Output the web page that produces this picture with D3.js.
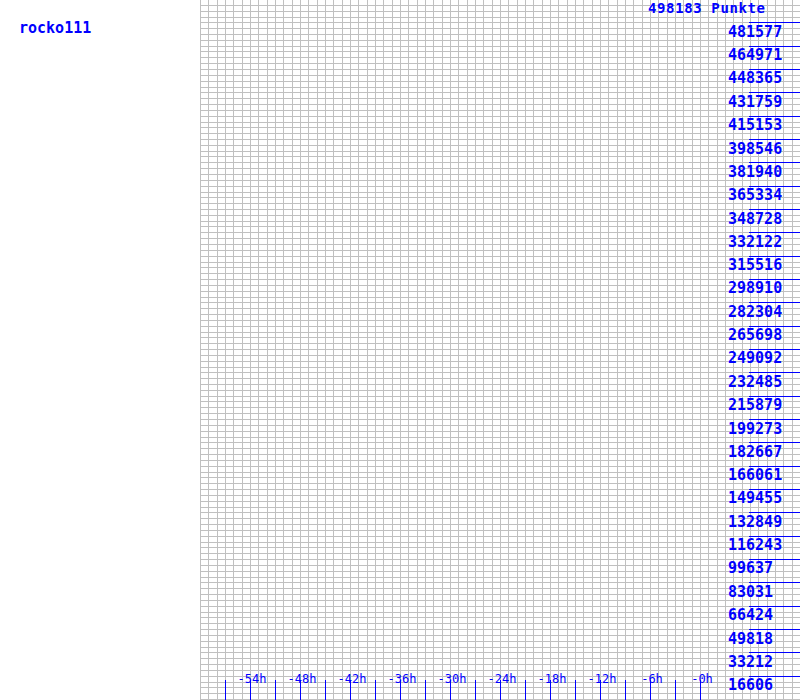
<!DOCTYPE html>
<html><head><meta charset="utf-8">
<script src="https://cdn.jsdelivr.net/npm/d3@7"></script>
<style>html,body{margin:0;padding:0;background:#fff;overflow:hidden}</style>
</head><body>
<svg id="c" width="800" height="700"></svg>
<script>
const userName = "rocko111";
const topValue = 498183;
const topLabel = "498183 Punkte";
const yTickValues = [16606, 33212, 49818, 66424, 83031, 99637, 116243, 132849, 149455, 166061,
  182667, 199273, 215879, 232485, 249092, 265698, 282304, 298910, 315516, 332122,
  348728, 365334, 381940, 398546, 415153, 431759, 448365, 464971, 481577];
const xTickHours = [-57, -54, -51, -48, -45, -42, -39, -36, -33, -30, -27, -24, -21, -18, -15, -12, -9, -6, -3, 0];
const xLabelHours = [-54, -48, -42, -36, -30, -24, -18, -12, -6, 0];

const svg = d3.select("#c");
const x = d3.scaleLinear().domain([-60, 12]).range([200, 800]);
const y = d3.scaleLinear().domain([0, topValue]).range([700, 0]);

// grid
const g = svg.append("g").attr("stroke", "#c0c0c0").attr("stroke-width", 1).attr("shape-rendering", "crispEdges");
const vHours = d3.range(-60, 12, 1);
g.selectAll("line.v").data(vHours).join("line")
  .attr("x1", d => Math.round(x(d)) + 0.5).attr("x2", d => Math.round(x(d)) + 0.5)
  .attr("y1", 0).attr("y2", 700);
const hSteps = d3.range(0, 120, 1).map(i => topValue * i / 120);
g.selectAll("line.h").data(hSteps).join("line")
  .attr("y1", d => Math.round(y(d)) - 0.5).attr("y2", d => Math.round(y(d)) - 0.5)
  .attr("x1", 200).attr("x2", 800);

// y ticks
const yt = svg.append("g");
yt.selectAll("line").data(yTickValues).join("line")
  .attr("x1", 749).attr("x2", 800)
  .attr("y1", d => Math.round(y(d)) - 0.5).attr("y2", d => Math.round(y(d)) - 0.5)
  .attr("stroke", "#0000ff").attr("shape-rendering", "crispEdges");
yt.selectAll("text").data(yTickValues).join("text")
  .attr("x", 728).attr("y", d => y(d) + 13.5)
  .attr("fill", "#0000ff").attr("font-family", "DejaVu Sans Mono, monospace")
  .attr("font-weight", "bold").attr("font-size", 15)
  .text(d => d);

svg.append("text").attr("x", 648).attr("y", 13)
  .attr("fill", "#0000ff").attr("font-family", "DejaVu Sans Mono, monospace")
  .attr("font-weight", "bold").attr("font-size", 14)
  .attr("textLength", 117).attr("lengthAdjust", "spacing").text(topLabel);

svg.append("text").attr("x", 19).attr("y", 33)
  .attr("fill", "#0000ff").attr("font-family", "DejaVu Sans Mono, monospace")
  .attr("font-weight", "bold").attr("font-size", 15).text(userName);

// x ticks
const xt = svg.append("g");
xt.selectAll("line").data(xTickHours).join("line")
  .attr("x1", d => Math.round(x(d)) + 0.5).attr("x2", d => Math.round(x(d)) + 0.5)
  .attr("y1", 680).attr("y2", 700)
  .attr("stroke", "#0000ff").attr("shape-rendering", "crispEdges");
xt.selectAll("text").data(xLabelHours).join("text")
  .attr("x", d => x(d) + 2).attr("y", 682.5)
  .attr("text-anchor", "middle")
  .attr("fill", "#0000ff").attr("font-family", "DejaVu Sans Mono, monospace")
  .attr("font-size", 12)
  .text(d => "-" + Math.abs(d) + "h");
</script>
</body></html>
